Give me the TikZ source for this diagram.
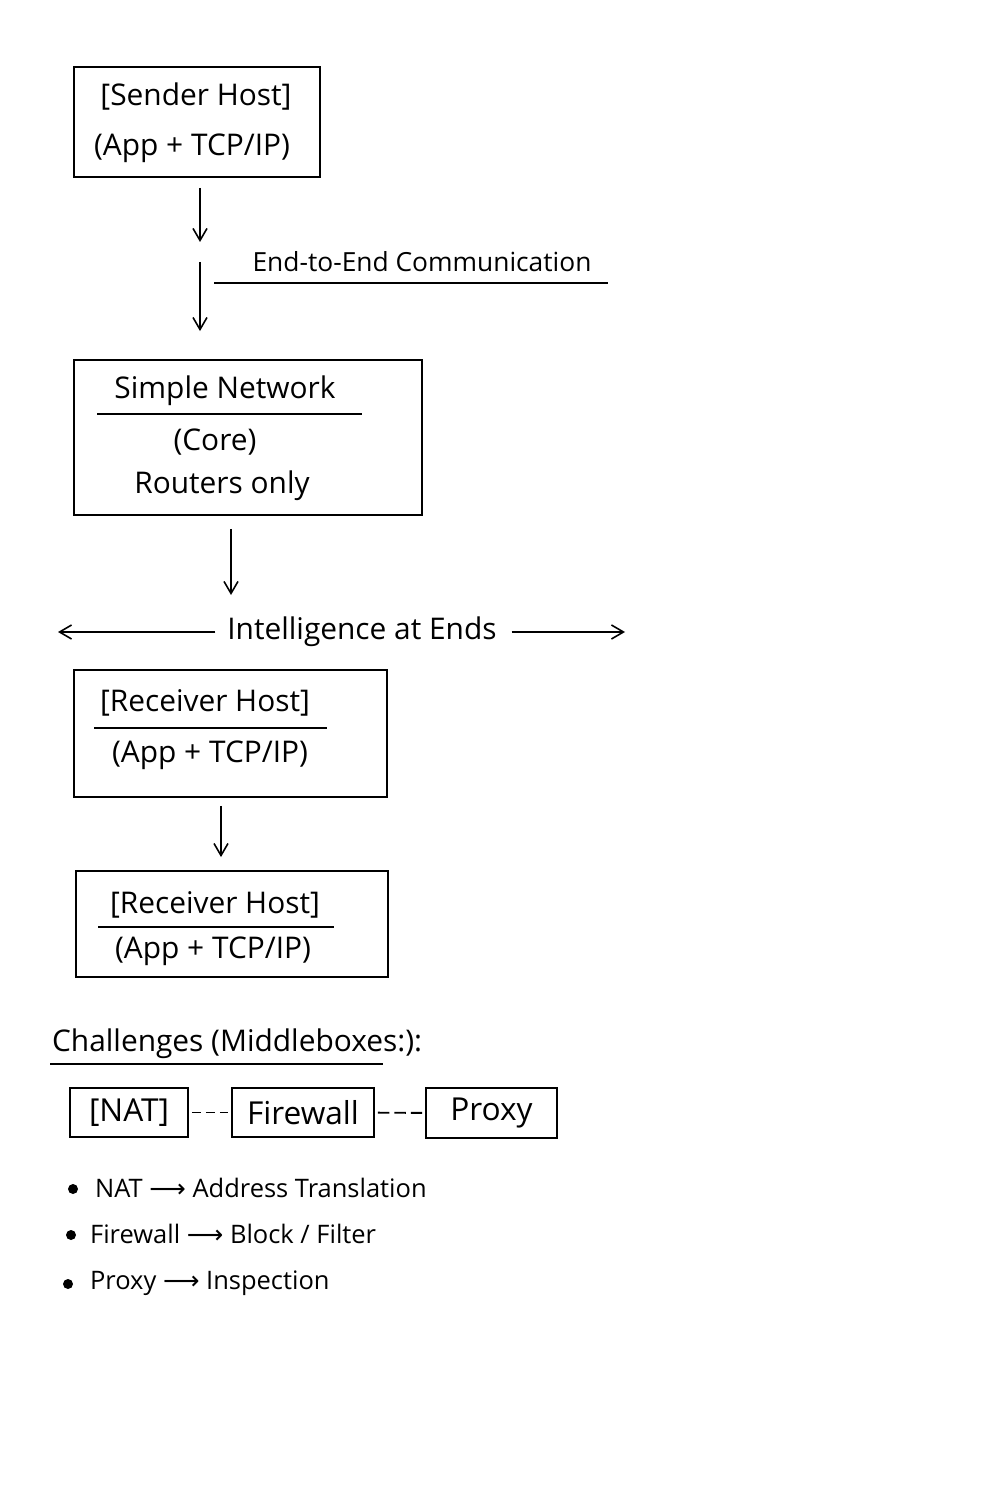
\documentclass[tikz,border=0pt]{standalone}
\usepackage{fontspec}
\setmainfont{Open Sans}
\newfontfamily\symfont{DejaVu Sans}
\usepackage{tikz}
\usetikzlibrary{arrows.meta, positioning, calc}

\tikzset{
  hostbox/.style={draw, line width=1.1pt, inner sep=0pt},
  lbl/.style={inner sep=1pt, font=\fontsize{17}{20}\selectfont},
  arr/.style={-{Straight Barb[length=2.4mm, width=2.8mm]}, line width=0.9pt},
  uline/.style={line width=0.9pt},
  dashlink/.style={line width=1.1pt, shorten <=0.06cm, shorten >=0.06cm}
}

\begin{document}
\begin{tikzpicture}[x=0.02cm, y=-0.02cm]
  \path[use as bounding box, fill=white] (0,0) rectangle (1000,1500);

  % sender
  \node[hostbox, minimum width=4.92cm, minimum height=2.2cm] (sender) at (197,122) {};
  \node[lbl] (senderT) at (196,97) {[Sender Host]};
  \node[lbl] (senderS) at (192,148) {(App + TCP/IP)};

  \coordinate (brk1) at (200,242);
  \coordinate (brk2) at (200,262);
  \node[lbl, font=\fontsize{15}{18}\selectfont] (e2e) at (422,262) {End-to-End Communication};
  \draw[uline] (214,283) -- (608,283);

  % simple network core
  \node[hostbox, minimum width=6.96cm, minimum height=3.1cm] (simple) at (248,437.5) {};
  \node[lbl] (simpleT) at (225,391) {Simple Network};
  \draw[uline] (97,414) -- (362,414);
  \node[lbl] (core) at (215,442) {(Core)};
  \node[lbl] (routers) at (222,486) {Routers only};

  \draw[arr, shorten <=0.2cm] (sender.south -| brk1) -- (brk1);
  \draw[arr, shorten >=0.56cm] (brk2) -- (simple.north -| brk2);

  % intelligence at ends
  \coordinate (c3) at (231,595);
  \coordinate (leftend) at (58,628);
  \coordinate (rightend) at (625,633);
  \node[lbl] (intel) at (362,632) {Intelligence at Ends};
  \draw[arr, shorten <=0.26cm] (simple.south -| c3) -- (c3);
  \draw[arr, shorten <=0.2cm] (intel.west) -- (leftend |- intel.west);
  \draw[arr, shorten <=0.26cm] (intel.east) -- (rightend |- intel.east);

  % receivers
  \node[hostbox, minimum width=6.26cm, minimum height=2.54cm] (recvA) at (230.5,733.5) {};
  \node[lbl] (recvAT) at (205,703) {[Receiver Host]};
  \draw[uline] (94,728) -- (327,728);
  \node[lbl] (recvAS) at (210,755) {(App + TCP/IP)};

  \node[hostbox, minimum width=6.24cm, minimum height=2.12cm] (recvB) at (232,924) {};
  \node[lbl] (recvBT) at (215,905) {[Receiver Host]};
  \draw[uline] (98,927) -- (334,927);
  \node[lbl] (recvBS) at (213,951) {(App + TCP/IP)};

  \coordinate (c4) at (221,0);
  \draw[arr, shorten <=0.16cm, shorten >=0.26cm] (recvA.south -| c4) -- (recvB.north -| c4);

  % middleboxes
  \node[lbl, anchor=west] (chal) at (50,1044) {Challenges (Middleboxes:):};
  \draw[uline] (50,1064) -- (383,1064);

  \node[hostbox, minimum width=2.36cm, minimum height=0.98cm, lbl, font=\fontsize{18}{21}\selectfont] (nat) at (129,1112.5) {[NAT]};
  \node[hostbox, minimum width=2.84cm, minimum height=0.98cm, lbl, font=\fontsize{18}{21}\selectfont] (fw) at (303,1112.5) {Firewall};
  \node[hostbox, minimum width=2.62cm, minimum height=1.0cm, lbl, font=\fontsize{18}{21}\selectfont] (proxy) at (491.5,1113) {Proxy};
  \draw[dashlink, dash pattern=on 0.18cm off 0.1cm] (nat) -- (fw);
  \draw[dashlink, dash pattern=on 0.23cm off 0.1cm] (fw) -- (proxy);

  % bullet notes
  \fill (73,1189) circle (0.1cm);
  \fill (71,1235) circle (0.1cm);
  \fill (68,1284) circle (0.1cm);
  \node[lbl, anchor=west, font=\fontsize{14.5}{18}\selectfont] (noteNat) at (93,1188) {NAT {\symfont ⟶} Address Translation};
  \node[lbl, anchor=west, font=\fontsize{14.5}{18}\selectfont] (noteFw) at (88,1234) {Firewall {\symfont ⟶} Block / Filter};
  \node[lbl, anchor=west, font=\fontsize{14.5}{18}\selectfont] (noteProxy) at (88,1283) {Proxy {\symfont ⟶} Inspection};
\end{tikzpicture}
\end{document}
